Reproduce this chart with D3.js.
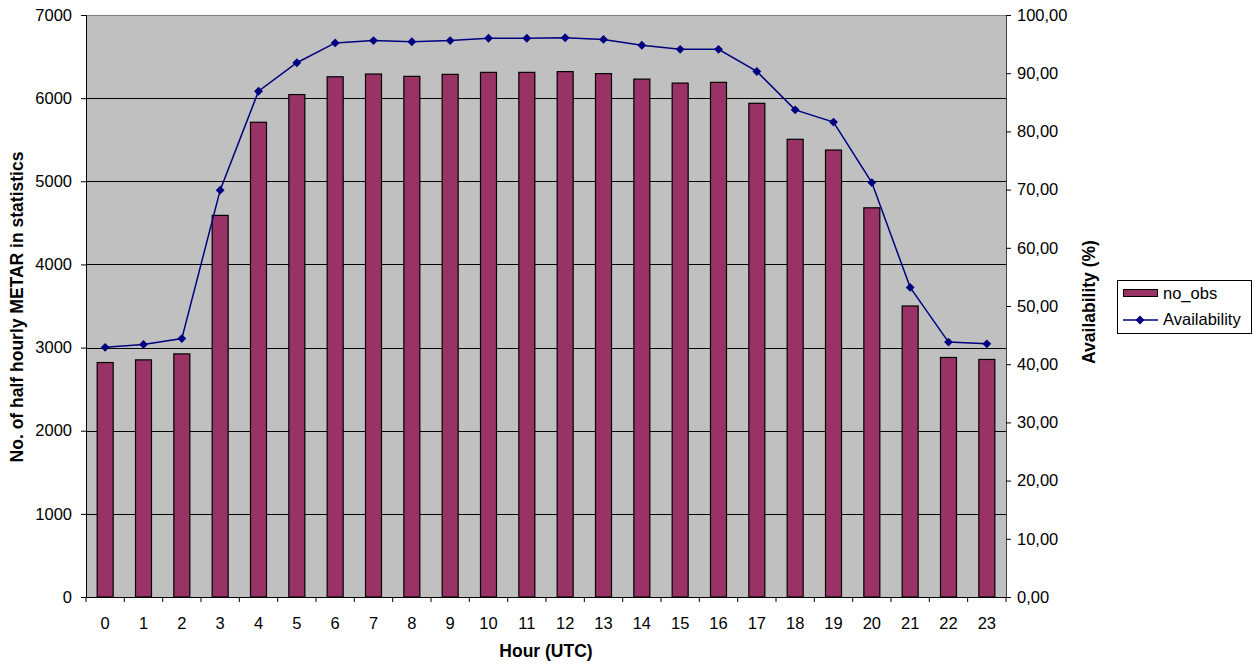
<!DOCTYPE html>
<html><head><meta charset="utf-8">
<script src="https://cdn.jsdelivr.net/npm/d3@7"></script>
<style>body{margin:0;background:#fff}svg{display:block;font-family:"Liberation Sans",Arial,sans-serif}</style>
</head><body><svg id="c" width="1256" height="666"></svg>
<script>
const hours = ["0","1","2","3","4","5","6","7","8","9","10","11","12","13","14","15","16","17","18","19","20","21","22","23"];
const noObs = [2820,2852,2924,4590,5710,6043,6257,6290,6262,6286,6310,6310,6319,6295,6229,6181,6190,5938,5505,5376,4681,3500,2881,2857];
const availability = [42.9,43.4,44.4,69.9,86.9,91.8,95.2,95.6,95.4,95.6,96.0,96.0,96.1,95.8,94.8,94.1,94.1,90.3,83.7,81.6,71.2,53.2,43.8,43.5];
const leftTicks = [0,1000,2000,3000,4000,5000,6000,7000];
const rightTicks = [0,10,20,30,40,50,60,70,80,90,100];

const svg = d3.select("#c");
const L=86,R=1006,T=15,B=597;
const x = d3.scaleBand().domain(hours).range([L,R]).paddingInner(0).paddingOuter(0);
const yL = d3.scaleLinear().domain([0,7000]).range([B,T]);
const yR = d3.scaleLinear().domain([0,100]).range([B,T]);

svg.append("rect").attr("x",L).attr("y",T).attr("width",R-L).attr("height",B-T).attr("fill","#c0c0c0");
// gridlines
svg.append("g").selectAll("line").data(leftTicks.slice(1,-1)).join("line")
  .attr("x1",L).attr("x2",R).attr("y1",d=>Math.round(yL(d))+0.5).attr("y2",d=>Math.round(yL(d))+0.5)
  .attr("stroke","#000").attr("stroke-width",1);
svg.append("line").attr("x1",L).attr("x2",R).attr("y1",T+0.5).attr("y2",T+0.5).attr("stroke","#808080");

// bars
const bw = 16;
svg.append("g").selectAll("rect").data(noObs).join("rect")
  .attr("x",(d,i)=>x(hours[i])+x.bandwidth()/2-bw/2)
  .attr("y",d=>yL(d)).attr("width",bw).attr("height",d=>B-yL(d))
  .attr("fill","#993366").attr("stroke","#000").attr("stroke-width",1.2);

// line
const line = d3.line().x((d,i)=>x(hours[i])+x.bandwidth()/2).y(d=>yR(d));
svg.append("path").datum(availability).attr("d",line).attr("fill","none").attr("stroke","#000080").attr("stroke-width",1.5);
const diamond = d3.symbol().type(d3.symbolDiamond2).size(50);
svg.append("g").selectAll("path").data(availability).join("path")
  .attr("d",diamond).attr("transform",(d,i)=>`translate(${x(hours[i])+x.bandwidth()/2},${yR(d)})`)
  .attr("fill","#000080");

// axes
const fs = "16.5px";
const gL = svg.append("g").attr("transform",`translate(${L},0)`)
  .call(d3.axisLeft(yL).tickValues(leftTicks).tickSize(5).tickPadding(9).tickFormat(d3.format("d")));
const gR = svg.append("g").attr("transform",`translate(${R},0)`)
  .call(d3.axisRight(yR).tickValues(rightTicks).tickSize(5).tickPadding(6).tickFormat(d=>d3.format(".2f")(d).replace(".",",")));
const gX = svg.append("g").attr("transform",`translate(0,${B})`)
  .call(d3.axisBottom(x).tickSize(0).tickPadding(20));
// x ticks at category boundaries
svg.append("g").selectAll("line").data(d3.range(hours.length+1)).join("line")
  .attr("x1",i=>L+i*x.step()).attr("x2",i=>L+i*x.step()).attr("y1",B).attr("y2",B+5).attr("stroke","#000");
[gL,gR,gX].forEach(g=>{
  g.selectAll("text").attr("font-size",fs).attr("fill","#000").attr("font-family","Liberation Sans, Arial, sans-serif");
  g.selectAll("line").attr("stroke","#000");
  g.select(".domain").attr("stroke","#000");
});
gR.select(".domain").attr("stroke","#404040");

// titles
const tfs = "17.5px";
svg.append("text").attr("x",546).attr("y",657).attr("text-anchor","middle").attr("font-size",tfs).attr("font-weight","bold").text("Hour (UTC)");
svg.append("text").attr("transform","translate(23,307) rotate(-90)").attr("text-anchor","middle").attr("font-size",tfs).attr("font-weight","bold").text("No. of half hourly METAR in statistics");
svg.append("text").attr("transform","translate(1095,302) rotate(-90)").attr("text-anchor","middle").attr("font-size",tfs).attr("font-weight","bold").text("Availability (%)");

// legend
const lg = svg.append("g");
lg.append("rect").attr("x",1117.5).attr("y",280.5).attr("width",134).attr("height",53).attr("fill","#fff").attr("stroke","#000");
lg.append("rect").attr("x",1123.5).attr("y",289.5).attr("width",34).attr("height",7).attr("fill","#993366").attr("stroke","#000");
lg.append("text").attr("x",1163).attr("y",299).attr("font-size",fs).text("no_obs");
lg.append("line").attr("x1",1123).attr("x2",1158).attr("y1",320).attr("y2",320).attr("stroke","#000080").attr("stroke-width",1.5);
lg.append("path").attr("d",diamond).attr("transform","translate(1140,320)").attr("fill","#000080");
lg.append("text").attr("x",1163).attr("y",325).attr("font-size",fs).text("Availability");
</script></body></html>
